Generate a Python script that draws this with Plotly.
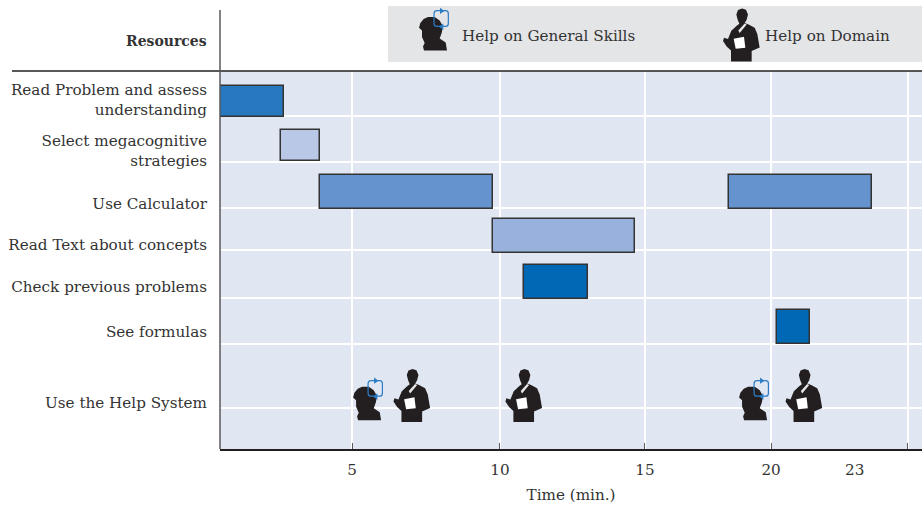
import plotly.graph_objects as go

# ---- data (axis units; the reference time axis is not evenly spaced)
activity_labels = ["Read Problem and assess<br>understanding", "Select megacognitive<br>strategies",
                   "Use Calculator", "Read Text about concepts", "Check previous problems",
                   "See formulas", "Use the Help System"]
bar_activity = [0, 1, 2, 2, 3, 4, 5]
bar_start = [0.45, 2.55, 3.89, 18.01, 9.86, 10.93, 19.67]
bar_end = [2.65, 3.89, 9.86, 22.93, 14.75, 13.13, 20.79]
bar_colors = ["#2878c0", "#b8c8e6", "#6593cd", "#6593cd", "#98b2dd", "#0068b5", "#0068b5"]
help_general_times = [5.52, 18.83]
help_domain_times = [7.05, 10.91, 20.57]
tick_positions = [5, 10.1, 15.1, 19.45, 24.17]
tick_labels = ["5", "10", "15", "20", ""]
extra_label_pos = 22.34
extra_label = "23"

# ---- layout constants
W, H = 922, 506
L, R, T, B = 220, 922, 71, 449.5
FONT = "DejaVu Serif"
TXT = "#333333"
FS = 15.2
X_RANGE = [(L - 207) / 29, (R - 207) / 29]


def py(p):
    return (B - p) / 10


bar_center_px = [101.5, 145.5, 192, 236, 282, 327]
bar_height_px = [31, 31, 34, 34, 34, 34]
label_center_px = [99.5, 150.5, 204, 245, 287, 332, 403]
grid_y_px = [116.5, 162, 208.5, 250, 298.5, 344, 408]


def fx(p):
    return (p - L) / (R - L)


def fy(p):
    return (B - p) / (B - T)


fig = go.Figure()
for a, s, e, c in zip(bar_activity, bar_start, bar_end, bar_colors):
    fig.add_trace(go.Bar(orientation="h", y=[py(bar_center_px[a])], x=[e - s], base=[s],
                         width=[bar_height_px[a] / 10], yaxis="y2",
                         marker=dict(color=c, line=dict(color="#333333", width=1.5)),
                         showlegend=False, hoverinfo="skip"))

shapes = []
annotations = []


def poly(pts, cx, cy):
    return "M" + " L".join(f"{(x - cx) / 3:.2f},{(cy - y) / 3:.2f}" for x, y in pts) + " Z"


PERSON = [(216, 58), (228, 62), (234, 76), (230, 92), (224, 102), (236, 106), (254, 116), (262, 135),
          (269, 175), (245, 186), (245, 217), (183, 217), (183, 184), (170, 172), (159, 156), (162, 146),
          (174, 150), (184, 125), (200, 110), (208, 104), (203, 92), (199, 76), (204, 63)]
PAPER = [(191, 149), (222, 143), (226, 176), (197, 179)]
COLLAR = [(224, 103), (230, 106), (209, 132), (205, 124)]
HEAD = [(65, 112), (85, 112), (100, 122), (110, 140), (106, 160), (100, 176), (118, 188), (122, 212),
        (53, 212), (50, 200), (55, 190), (47, 172), (47, 152), (38, 144), (42, 130), (52, 118)]
LOOP = "M{a},{b} L{c},{b} Q{d},{b} {d},{e} L{d},{f} Q{d},{g} {c},{g} L{a},{g} Q{h},{g} {h},{f} L{h},{e} Q{h},{b} {a},{b} Z"


def add_path(path, refs, fill, line=None, lw=0):
    shapes.append(dict(type="path", path=path, fillcolor=fill, line=dict(color=line or fill, width=lw),
                       layer="above", **refs))


def refs_for(xa, ya, xref, yref):
    return dict(xref=xref, yref=yref, xsizemode="pixel", ysizemode="pixel", xanchor=xa, yanchor=ya)


def person_icon(xa, ya, xref="x", yref="y"):
    r = refs_for(xa, ya, xref, yref)
    cx, cy = 213, 138
    add_path(poly(PERSON, cx, cy), r, "#231f20")
    add_path(poly(PAPER, cx, cy), r, "#ffffff")
    add_path(poly(COLLAR, cx, cy), r, "#e8e8e8")


def head_icon(xa, ya, xref="x", yref="y"):
    r = refs_for(xa, ya, xref, yref)
    cx, cy = 80, 160
    add_path(poly(HEAD, cx, cy), r, "#231f20")
    def X(v): return round((v - cx) / 3, 2)
    def Y(v): return round((cy - v) / 3, 2)
    shapes.append(dict(type="path",
                       path=LOOP.format(a=X(92), c=X(118), d=X(126), h=X(83), b=Y(93), g=Y(140), e=Y(102), f=Y(131)),
                       fillcolor="rgba(0,0,0,0)", line=dict(color="#2b7cc4", width=1.2), layer="above", **r))
    add_path(poly([(101, 84), (114, 94), (101, 103)], cx, cy), r, "#2b7cc4")
    add_path(poly([(111, 131), (98, 141), (111, 151)], cx, cy), r, "#2b7cc4")


for t in help_general_times:
    head_icon(t, py(403.3))
for t in help_domain_times:
    person_icon(t, py(396))

# header
shapes.append(dict(type="rect", xref="paper", yref="paper", x0=fx(388), x1=1, y0=fy(62), y1=fy(6),
                   fillcolor="#e4e5e7", line=dict(width=0), layer="below"))
head_icon(fx(433), fy(33), "paper", "paper")
person_icon(fx(741), fy(35), "paper", "paper")
# rule under the header and vertical axis rule
shapes.append(dict(type="line", xref="paper", yref="paper", x0=fx(12), x1=1, y0=fy(71), y1=fy(71),
                   line=dict(color="#231f20", width=1.5), layer="above"))
shapes.append(dict(type="line", xref="paper", yref="paper", x0=0, x1=0, y0=0, y1=fy(10),
                   line=dict(color="#58595b", width=1.5), layer="above"))

annotations += [
    dict(text="<b>Resources</b>", xref="paper", yref="paper", x=fx(208.5), y=fy(41), xanchor="right", yanchor="middle",
         showarrow=False, font=dict(family=FONT, size=14, color=TXT)),
    dict(text="Help on General Skills", xref="paper", yref="paper", x=fx(459.5), y=fy(35.5), xanchor="left",
         yanchor="middle", showarrow=False, font=dict(family=FONT, size=FS, color=TXT)),
    dict(text="Help on Domain", xref="paper", yref="paper", x=fx(762.5), y=fy(35.5), xanchor="left",
         yanchor="middle", showarrow=False, font=dict(family=FONT, size=FS, color=TXT)),
    dict(text=extra_label, xref="x", yref="paper", x=extra_label_pos, y=fy(470.5), xanchor="center", yanchor="middle",
         showarrow=False, font=dict(family=FONT, size=FS, color=TXT)),
]

fig.update_layout(
    width=W, height=H, autosize=False,
    margin=dict(l=L, r=W - R, t=T, b=H - B, pad=0),
    plot_bgcolor="#e0e7f3", paper_bgcolor="#ffffff",
    barmode="overlay", bargap=0, showlegend=False,
    font=dict(family=FONT, size=FS, color=TXT),
    shapes=shapes, annotations=annotations,
    xaxis=dict(range=X_RANGE, tickmode="array", tickvals=tick_positions, ticktext=tick_labels,
               showgrid=True, gridcolor="#ffffff", gridwidth=1.5, zeroline=False,
               showline=True, linecolor="#231f20", linewidth=1.5,
               ticks="inside", ticklen=6, tickwidth=1.2, tickcolor="#58595b",
               ticklabelstandoff=6, tickfont=dict(family=FONT, size=FS, color=TXT),
               title=dict(text="Time (min.)", font=dict(family=FONT, size=FS, color=TXT), standoff=11)),
    yaxis=dict(range=[0, (B - T) / 10], tickmode="array", tickvals=[py(v) for v in grid_y_px],
               showticklabels=False, ticks="", showgrid=True, gridcolor="#ffffff", gridwidth=1.5,
               zeroline=False, showline=False),
    yaxis2=dict(range=[0, (B - T) / 10], overlaying="y", side="left", tickmode="array",
                tickvals=[py(v) for v in label_center_px], ticktext=activity_labels,
                showgrid=False, zeroline=False, showline=False, ticks="", ticklabelstandoff=12,
                tickfont=dict(family=FONT, size=FS, color=TXT)),
)
fig.write_html("out.html", config={"displayModeBar": False}, post_script="document.body.style.margin='0';")
